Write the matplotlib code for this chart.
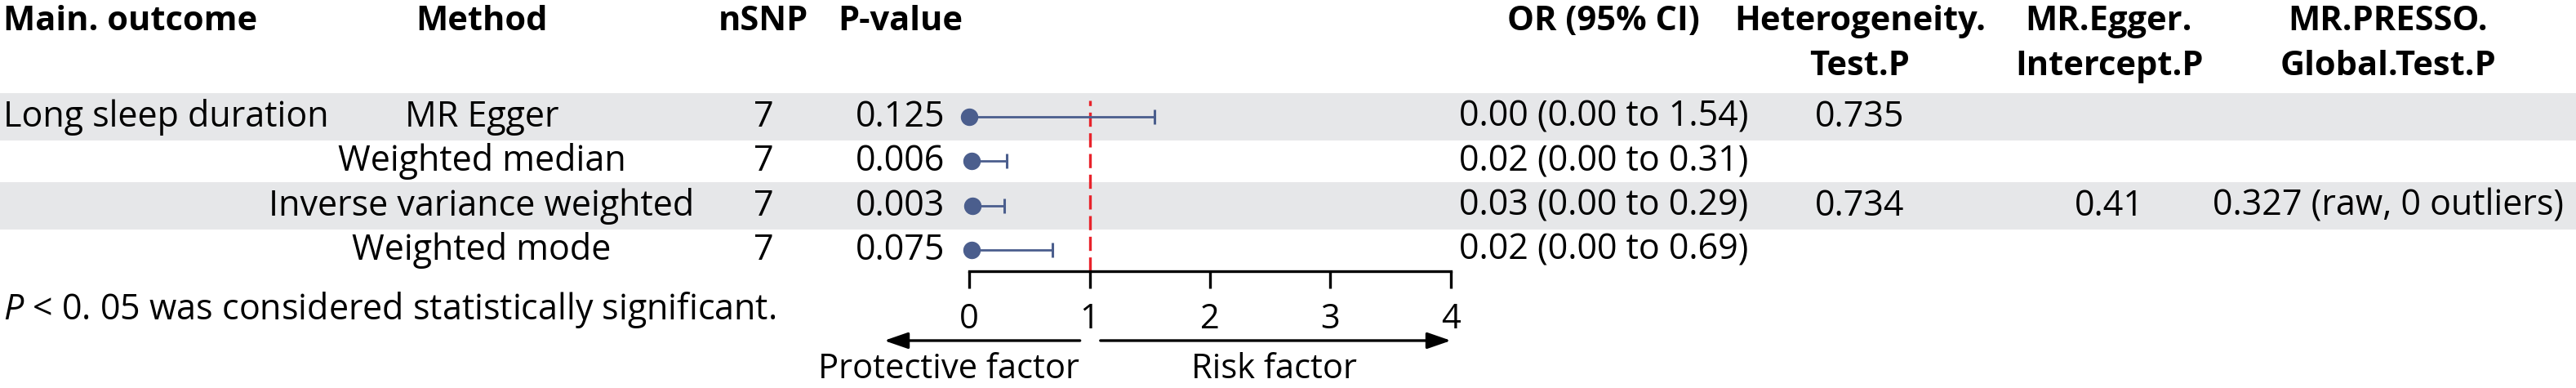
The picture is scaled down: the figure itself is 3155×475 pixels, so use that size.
import matplotlib.pyplot as plt
from matplotlib.transforms import blended_transform_factory

plt.rcParams['font.family'] = ['Open Sans', 'DejaVu Sans']
plt.rcParams['mathtext.fontset'] = 'custom'
plt.rcParams['mathtext.it'] = 'Open Sans:italic'
plt.rcParams['mathtext.rm'] = 'Open Sans'

# Table data
outcome = ['Long sleep duration', '', '', '']
methods = ['MR Egger', 'Weighted median', 'Inverse variance weighted', 'Weighted mode']
nsnp = [7, 7, 7, 7]
pvals = ['0.125', '0.006', '0.003', '0.075']
or_est = [0.00, 0.02, 0.03, 0.02]
or_low = [0.00, 0.00, 0.00, 0.00]
or_high = [1.54, 0.31, 0.29, 0.69]
het_p = ['0.735', '', '0.734', '']
egger_p = ['', '', '0.41', '']
presso_p = ['', '', '0.327 (raw, 0 outliers)', '']
headers = ['Main. outcome', 'Method', 'nSNP', 'P-value', 'OR (95% CI)',
           'Heterogeneity.\nTest.P', 'MR.Egger.\nIntercept.P', 'MR.PRESSO.\nGlobal.Test.P']
xticks = [0, 1, 2, 3, 4]
ref_value = 1
footnote = r'$P$ < 0. 05 was considered statistically significant.'

W, H = 3155, 475
fig = plt.figure(figsize=(W / 100, H / 100), dpi=100)

# forest panel: x 0..4 -> px 1187..1777, rows from px 113 to axis at 332
ax = fig.add_axes([1187 / W, 1 - 332 / H, 590 / W, 219 / H])
ax.set_xlim(0, 4)
ax.set_ylim(3.48, -0.552)
ax.patch.set_facecolor('none')

# background stripes, same vertical scale
bg = fig.add_axes([0, 1 - 332 / H, 1, 219 / H], zorder=-1)
bg.set_xlim(0, 1)
bg.set_ylim(3.48, -0.552)
bg.axis('off')
rows = list(range(len(methods)))
for i in rows:
    if i % 2 == 0:
        bg.axhspan(i - 0.535, i + 0.535, color='#e6e7e9', lw=0)

# reference line
ax.axvline(ref_value, ymin=0, ymax=0.954, color='#e8232b', lw=2.4,
           linestyle=(0, (5.2, 2.4)), zorder=1)

# estimates
xerr = [[e - l for e, l in zip(or_est, or_low)], [h - e for e, h in zip(or_est, or_high)]]
eb = ax.errorbar(or_est, rows, xerr=xerr, fmt='o', color='#4b5e8d', ms=14.4,
                 elinewidth=2, capsize=6.5, capthick=2.2, zorder=3)
for a in [eb[0], *eb[1], *eb[2]]:
    a.set_clip_on(False)

for s in ['top', 'left', 'right']:
    ax.spines[s].set_visible(False)
ax.spines['bottom'].set_linewidth(2.4)
ax.set_xticks(xticks)
ax.set_yticks([])
ax.tick_params(axis='x', length=15, width=2.4, labelsize=30, pad=12)

# arrows and direction labels
arrow = dict(arrowstyle='-|>,head_length=1.1,head_width=0.38', lw=2.4, color='black',
             shrinkA=0, shrinkB=0, mutation_scale=16)
ax.annotate('', xy=(-0.705, -0.388), xytext=(0.92, -0.388),
            xycoords=('data', 'axes fraction'), arrowprops=arrow, annotation_clip=False)
ax.annotate('', xy=(4.0, -0.388), xytext=(1.09, -0.388),
            xycoords=('data', 'axes fraction'), arrowprops=arrow, annotation_clip=False)
ax.text(0.915, -0.60, 'Protective factor', transform=ax.get_xaxis_transform(),
        ha='right', va='baseline', fontsize=30)
ax.text(2.53, -0.60, 'Risk factor', transform=ax.get_xaxis_transform(),
        ha='center', va='baseline', fontsize=30)

# table text
col_x = [4, 590, 935, 1103, 1964, 2278, 2583, 2925]
col_ha = ['left'] + ['center'] * 7
for x, ha, h in zip(col_x, col_ha, headers):
    for k, line in enumerate(h.split('\n')):
        fig.text(x / W, 1 - (37 + 55 * k) / H, line, ha=ha, va='baseline',
                 fontsize=30, fontweight='bold')

or_text = [f'{e:.2f} ({l:.2f} to {h:.2f})' for e, l, h in zip(or_est, or_low, or_high)]
columns = [outcome, methods, [str(n) for n in nsnp], pvals, or_text, het_p, egger_p, presso_p]
tr = blended_transform_factory(fig.transFigure, ax.transData)
for x, ha, col in zip(col_x, col_ha, columns):
    for i, val in zip(rows, col):
        if val:
            fig.text(x / W, i + 0.22, val, transform=tr, ha=ha, va='baseline', fontsize=31)

fig.text(4 / W, 1 - 391 / H, footnote, ha='left', va='baseline', fontsize=31)

fig.savefig('out.png', dpi=100)
